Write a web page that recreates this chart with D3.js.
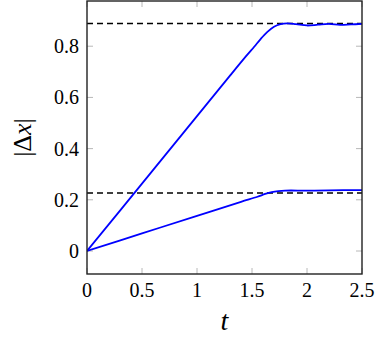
<!DOCTYPE html>
<html><head><meta charset="utf-8">
<script src="https://cdn.jsdelivr.net/npm/d3@7"></script>
<style>body{margin:0;background:#fff}svg{display:block}text{font-family:"Liberation Serif","Times New Roman","DejaVu Serif",serif}</style>
</head><body>
<svg id="c" width="382" height="339"></svg>
<script>
const xTicks = [0, 0.5, 1, 1.5, 2, 2.5];
const yTicks = [0, 0.2, 0.4, 0.6, 0.8];
const upperT = [0, 0.5, 1.0, 1.3, 1.45, 1.52, 1.58, 1.64, 1.70, 1.76, 1.82, 1.9, 2.0, 2.1, 2.2, 2.3, 2.4, 2.5];
const upperV = [0, 0.263, 0.527, 0.685, 0.763, 0.798, 0.829, 0.856, 0.876, 0.886, 0.889, 0.886, 0.881, 0.884, 0.887, 0.883, 0.885, 0.887];
const lowerT = [0, 0.5, 1.0, 1.4, 1.55, 1.62, 1.68, 1.74, 1.8, 2.0, 2.2, 2.5];
const lowerV = [0, 0.069, 0.137, 0.192, 0.212, 0.223, 0.230, 0.234, 0.236, 0.236, 0.237, 0.238];
const refLines = [0.889, 0.2265];

const L = 87, R = 362, T = 1, B = 274;
const x = d3.scaleLinear().domain([0, 2.5]).range([L, R]);
const y = d3.scaleLinear().domain([-0.0898, 0.9766]).range([B, T]);
const svg = d3.select('#c');

svg.append('defs').append('clipPath').attr('id', 'clip')
  .append('rect').attr('x', L).attr('y', T).attr('width', R - L).attr('height', B - T);

const tickG = svg.append('g').attr('stroke', '#b8b8b8').attr('stroke-width', 1);
xTicks.forEach(t => {
  tickG.append('line').attr('x1', x(t)).attr('x2', x(t)).attr('y1', B).attr('y2', B - 6);
  tickG.append('line').attr('x1', x(t)).attr('x2', x(t)).attr('y1', T).attr('y2', T + 6);
});
yTicks.forEach(v => {
  tickG.append('line').attr('y1', y(v)).attr('y2', y(v)).attr('x1', L).attr('x2', L + 6);
  tickG.append('line').attr('y1', y(v)).attr('y2', y(v)).attr('x1', R).attr('x2', R - 6);
});

const g = svg.append('g').attr('clip-path', 'url(#clip)');
refLines.forEach(v => {
  g.append('line').attr('x1', L).attr('x2', R).attr('y1', y(v)).attr('y2', y(v))
    .attr('stroke', '#000').attr('stroke-width', 1.5).attr('stroke-dasharray', '6,4');
});
const line = d3.line().x(d => x(d[0])).y(d => y(d[1])).curve(d3.curveCatmullRom.alpha(0.5));
[[upperT, upperV], [lowerT, lowerV]].forEach(([ts, vs]) => {
  g.append('path').datum(ts.map((t, i) => [t, vs[i]])).attr('d', line)
    .attr('fill', 'none').attr('stroke', '#0000ff').attr('stroke-width', 1.8);
});

svg.append('rect').attr('x', L).attr('y', T).attr('width', R - L).attr('height', B - T)
  .attr('fill', 'none').attr('stroke', '#222').attr('stroke-width', 1.4);

xTicks.forEach(t => {
  svg.append('text').attr('x', x(t)).attr('y', 297).attr('text-anchor', 'middle')
    .attr('font-size', 20).text(d3.format('~g')(t));
});
yTicks.forEach(v => {
  svg.append('text').attr('x', 79).attr('y', y(v) + 7).attr('text-anchor', 'end')
    .attr('font-size', 20).text(d3.format('~g')(v));
});

svg.append('text').attr('x', (L + R) / 2).attr('y', 330).attr('text-anchor', 'middle')
  .attr('font-size', 28).attr('font-style', 'italic').text('t');
const yt = svg.append('text').attr('transform', `translate(31,${(T + B) / 2}) rotate(-90)`)
  .attr('text-anchor', 'middle').attr('font-size', 26);
yt.append('tspan').text('|Δ');
yt.append('tspan').attr('font-style', 'italic').text('x');
yt.append('tspan').text('|');
</script>
</body></html>
